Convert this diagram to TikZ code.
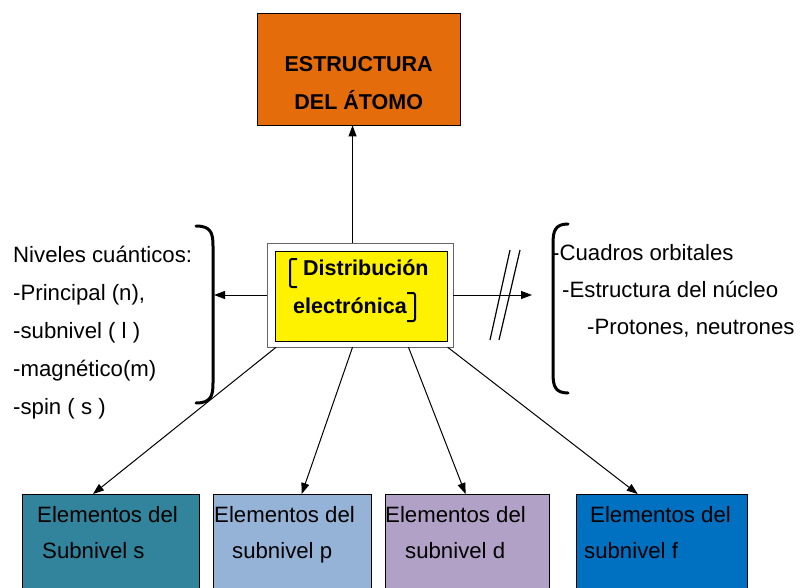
\documentclass[tikz,border=0pt]{standalone}
\usepackage{fontspec}
\setmainfont{Liberation Sans}
\usepackage{tikz}
\usetikzlibrary{positioning,arrows.meta,calc}
\definecolor{atomorange}{HTML}{E46C0A}
\definecolor{subS}{HTML}{31849B}
\definecolor{subP}{HTML}{95B3D7}
\definecolor{subD}{HTML}{B2A1C7}
\definecolor{subF}{HTML}{0070C0}
\tikzset{
  abox/.style={draw, inner sep=0pt, anchor=north west},
  atxt/.style={font=\fontsize{22.2}{38}\selectfont, inner sep=0pt, align=left},
  abold/.style={font=\fontsize{21.5}{38}\selectfont\bfseries, inner sep=0pt},
  aarrow/.style={-{Triangle[length=11pt,width=8pt]}, line width=1pt},
  abracket/.style={line width=3pt, line cap=round},
  sbracket/.style={line width=2pt, rounded corners=2pt},
}

\begin{document}
\begin{tikzpicture}[x=1pt, y=-1pt]
  \clip (0,0) rectangle (804,587);
  % estructura del atomo
  \node[abox, fill=atomorange, minimum width=203pt, minimum height=112pt] (atomo) at (257,13) {};
  \node[abold, align=center, anchor=north] (atomotxt) at ([yshift=-43pt]atomo.north) {ESTRUCTURA\\DEL ÁTOMO};
  % distribucion electronica
  \node[abox, anchor=center, draw=black!60, fill=white, minimum width=186pt, minimum height=104pt] (dist) at (360,295) {};
  \node[abox, anchor=center, fill=yellow, minimum width=172pt, minimum height=90pt] (distin) at (361,296) {};
  \node[abold, anchor=base west] (distA) at (303,275) {Distribución};
  \node[abold, anchor=base west] (distB) at (293,313) {electrónica};
  \draw[sbracket] (297,259) -- (290,259) -- (290,287) -- (297,287);
  \draw[sbracket] (407,293) -- (415,293) -- (415,321) -- (407,321);
  % subniveles
  \foreach \n/\x/\w/\col in {s/22/177/subS, p/213/158/subP, d/385/164/subD, f/576/171/subF}
    \node[abox, fill=\col, minimum width=\w pt, minimum height=110pt] (sub\n) at (\x,494) {};
  \foreach \n/\tx/\ia/\ib/\s in {s/37/0/5/Subnivel s, p/214/0/18/subnivel p, d/385/0/20/subnivel d, f/584/6/0/subnivel f}
    \node[atxt, font=\fontsize{22.2}{36}\selectfont, anchor=north west] (txt\n) at (\tx,506)
      {\hspace*{\ia pt}Elementos del\\\hspace*{\ib pt}\s};
  \foreach \n/\a/\b in {s/0.05/0.4, p/0.46/0.56, d/0.76/0.49, f/0.97/0.36}
    \draw[aarrow] ($(dist.south west)!\a!(dist.south east)$) -- ($(sub\n.north west)!\b!(sub\n.north east)$);
  % flecha hacia arriba
  \coordinate (up) at ($(dist.north west)!0.46!(dist.north east)$);
  \draw[aarrow] (up) -- (up |- atomo.south);
  % niveles cuanticos
  \node[atxt, anchor=north west] (niveles) at (13,246)
    {Niveles cuánticos:\\-Principal (n),\\-subnivel ( l )\\-magnético(m)\\-spin ( s )};
  \draw[abracket] (196,226) .. controls (211,226) and (213,233) .. (213,246) -- (213,383)
    .. controls (213,396) and (211,403) .. (196,403);
  \coordinate (lbr) at (214,295);
  \draw[aarrow] (dist.west) -- (lbr);
  % cuadros orbitales
  \node[atxt, font=\fontsize{22.2}{37}\selectfont, anchor=north west] (orbit) at (552,244)
    {-Cuadros orbitales\\\hspace*{10pt}-Estructura del núcleo\\\hspace*{35pt}-Protones, neutrones};
  \draw[abracket] (568,224) .. controls (555,224) and (553,231) .. (553,244) -- (553,373)
    .. controls (553,386) and (555,393) .. (568,393);
  \coordinate (rbr) at (532,295);
  \draw[aarrow] (dist.east) -- (rbr);
  \draw[line width=1.2pt] (490,340) -- (510,250);
  \draw[line width=1.2pt] (499,340) -- (520,250);
\end{tikzpicture}
\end{document}
